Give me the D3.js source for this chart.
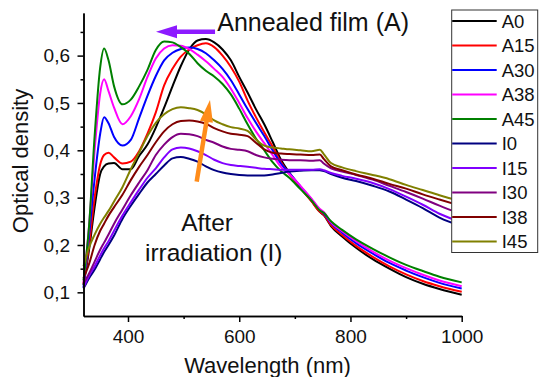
<!DOCTYPE html>
<html>
<head>
<meta charset="utf-8">
<script src="https://cdn.jsdelivr.net/npm/d3@7/dist/d3.min.js"></script>
<style>
  body { margin: 0; background: #fff; }
  svg { display: block; font-family: "Liberation Sans", Arial, sans-serif; }
</style>
</head>
<body>
<svg id="chart" width="539" height="377"></svg>
<script>
// wavelength grid (nm) shared by all spectra
const wavelength = [320, 330, 340, 350, 357, 365, 375, 390, 405, 420, 435, 450, 465, 480, 495, 510, 525, 540, 555, 570,
                    585, 600, 615, 630, 645, 660, 675, 690, 710, 730, 745, 752, 765, 785, 810, 840, 870, 900, 930, 960, 1000];

// annealed films
const A0  = [0.115, 0.19, 0.28, 0.35, 0.366, 0.372, 0.373, 0.36, 0.36, 0.388, 0.412, 0.448, 0.49, 0.535, 0.578, 0.613, 0.632, 0.635, 0.628, 0.613,
             0.59, 0.555, 0.522, 0.487, 0.455, 0.418, 0.38, 0.353, 0.322, 0.293, 0.27, 0.263, 0.24, 0.218, 0.194, 0.17, 0.15, 0.132, 0.118, 0.107, 0.095];
const A15 = [0.118, 0.2, 0.3, 0.37, 0.39, 0.395, 0.385, 0.372, 0.376, 0.398, 0.435, 0.48, 0.537, 0.572, 0.598, 0.613, 0.622, 0.626, 0.618, 0.6,
             0.576, 0.545, 0.505, 0.47, 0.438, 0.408, 0.375, 0.35, 0.32, 0.292, 0.27, 0.264, 0.242, 0.221, 0.198, 0.175, 0.155, 0.138, 0.124, 0.113, 0.101];
const A30 = [0.11, 0.22, 0.34, 0.435, 0.47, 0.457, 0.428, 0.41, 0.422, 0.468, 0.515, 0.557, 0.59, 0.606, 0.614, 0.617, 0.614, 0.605, 0.59, 0.572,
             0.548, 0.518, 0.487, 0.458, 0.43, 0.4, 0.372, 0.352, 0.324, 0.296, 0.274, 0.267, 0.246, 0.226, 0.204, 0.182, 0.162, 0.146, 0.132, 0.12, 0.108];
const A38 = [0.12, 0.24, 0.4, 0.52, 0.55, 0.525, 0.49, 0.455, 0.472, 0.508, 0.555, 0.594, 0.615, 0.622, 0.621, 0.614, 0.602, 0.588, 0.572, 0.555,
             0.53, 0.5, 0.468, 0.44, 0.415, 0.39, 0.365, 0.35, 0.325, 0.298, 0.276, 0.27, 0.248, 0.229, 0.208, 0.186, 0.167, 0.151, 0.137, 0.125, 0.113];
const A45 = [0.125, 0.24, 0.43, 0.575, 0.615, 0.59, 0.535, 0.497, 0.507, 0.535, 0.57, 0.612, 0.63, 0.628, 0.618, 0.604, 0.584, 0.568, 0.556, 0.54,
             0.518, 0.488, 0.455, 0.425, 0.4, 0.375, 0.356, 0.342, 0.318, 0.294, 0.273, 0.268, 0.25, 0.232, 0.212, 0.192, 0.174, 0.158, 0.145, 0.133, 0.121];
// after irradiation
const I0  = [0.108, 0.13, 0.148, 0.17, 0.185, 0.2, 0.22, 0.255, 0.283, 0.308, 0.332, 0.35, 0.368, 0.383, 0.386, 0.382, 0.376, 0.366, 0.358, 0.353,
             0.35, 0.348, 0.347, 0.347, 0.347, 0.349, 0.352, 0.355, 0.357, 0.358, 0.358, 0.356, 0.35, 0.342, 0.335, 0.325, 0.313, 0.296, 0.278, 0.258, 0.24];
const I15 = [0.11, 0.135, 0.155, 0.178, 0.193, 0.208, 0.23, 0.262, 0.29, 0.317, 0.342, 0.362, 0.385, 0.402, 0.406, 0.404, 0.398, 0.39, 0.38, 0.373,
             0.369, 0.367, 0.365, 0.363, 0.361, 0.36, 0.359, 0.359, 0.359, 0.359, 0.36, 0.358, 0.352, 0.346, 0.34, 0.331, 0.318, 0.302, 0.285, 0.266, 0.248];
const I30 = [0.118, 0.14, 0.165, 0.19, 0.205, 0.222, 0.245, 0.275, 0.305, 0.332, 0.358, 0.39, 0.412, 0.428, 0.435, 0.434, 0.43, 0.422, 0.416, 0.408,
             0.403, 0.401, 0.398, 0.39, 0.385, 0.382, 0.38, 0.379, 0.379, 0.378, 0.379, 0.372, 0.362, 0.355, 0.348, 0.338, 0.325, 0.312, 0.298, 0.283, 0.265];
const I38 = [0.13, 0.16, 0.2, 0.23, 0.245, 0.262, 0.28, 0.306, 0.337, 0.365, 0.39, 0.417, 0.44, 0.455, 0.462, 0.463, 0.461, 0.456, 0.447, 0.44,
             0.435, 0.433, 0.43, 0.416, 0.402, 0.395, 0.393, 0.392, 0.391, 0.39, 0.391, 0.382, 0.366, 0.358, 0.349, 0.34, 0.329, 0.319, 0.307, 0.296, 0.282];
const I45 = [0.155, 0.195, 0.222, 0.245, 0.258, 0.272, 0.292, 0.322, 0.36, 0.395, 0.43, 0.458, 0.476, 0.487, 0.491, 0.489, 0.485, 0.476, 0.463, 0.455,
             0.449, 0.446, 0.441, 0.423, 0.41, 0.406, 0.404, 0.402, 0.4, 0.398, 0.401, 0.392, 0.373, 0.364, 0.356, 0.348, 0.339, 0.327, 0.316, 0.305, 0.292];

const seriesNames  = ["A0", "A15", "A30", "A38", "A45", "I0", "I15", "I30", "I38", "I45"];
const seriesValues = [A0, A15, A30, A38, A45, I0, I15, I30, I38, I45];
const seriesColors = ["#000000", "#ff0000", "#0000ff", "#ff00ff", "#008000", "#000080", "#8000ff", "#800080", "#800000", "#808000"];

const yTicks = [0.1, 0.2, 0.3, 0.4, 0.5, 0.6];
const yMinorTicks = [0.15, 0.25, 0.35, 0.45, 0.55, 0.65];
const xTicks = [400, 600, 800, 1000];
const xMinorTicks = [500, 700, 900];

const svg = d3.select("#chart");
const x = d3.scaleLinear().domain([320, 1000]).range([83.5, 461.7]);
const y = d3.scaleLinear().domain([0.05, 0.69]).range([316, 13]);

// spectra
const line = d3.line()
    .x((d, i) => x(wavelength[i]))
    .y(d => y(d))
    .curve(d3.curveMonotoneX);

svg.append("g")
    .selectAll("path")
    .data(seriesValues)
    .enter()
    .append("path")
    .attr("d", d => line(d))
    .attr("fill", "none")
    .attr("stroke", (d, i) => seriesColors[i])
    .attr("stroke-width", 2)
    .attr("stroke-linejoin", "round");

// axes
const comma = d => d.toFixed(1).replace(".", ",");
const yAxis = svg.append("g")
    .attr("transform", `translate(${x.range()[0]},0)`)
    .call(d3.axisLeft(y).tickValues(yTicks).tickSize(6).tickSizeOuter(0).tickPadding(7.5).tickFormat(comma));
svg.append("g")
    .attr("transform", `translate(${x.range()[0]},0)`)
    .call(d3.axisLeft(y).tickValues(yMinorTicks).tickSize(3).tickSizeOuter(0).tickFormat(""));
const xAxis = svg.append("g")
    .attr("transform", `translate(0,${y.range()[0]})`)
    .call(d3.axisBottom(x).tickValues(xTicks).tickSize(6).tickSizeOuter(0).tickPadding(7.5).tickFormat(d3.format("d")));
svg.append("g")
    .attr("transform", `translate(0,${y.range()[0]})`)
    .call(d3.axisBottom(x).tickValues(xMinorTicks).tickSize(3).tickSizeOuter(0).tickFormat(""));

svg.selectAll(".domain, .tick line").attr("stroke", "#000").attr("stroke-width", 1.5);
svg.selectAll(".tick text").attr("font-size", 19).attr("fill", "#111").attr("font-family", "Liberation Sans, Arial, sans-serif");

svg.append("text")
    .attr("transform", "translate(28,161) rotate(-90)")
    .attr("text-anchor", "middle")
    .attr("font-size", 22)
    .attr("fill", "#111")
    .text("Optical density");
svg.append("text")
    .attr("x", 267.5)
    .attr("y", 373)
    .attr("text-anchor", "middle")
    .attr("font-size", 22)
    .attr("fill", "#111")
    .text("Wavelength (nm)");

// annotations
function arrow(from, to, color, width, headLen, headHalf) {
    const x0 = x(from[0]), y0 = y(from[1]), x1 = x(to[0]), y1 = y(to[1]);
    const len = Math.hypot(x1 - x0, y1 - y0);
    const ux = (x1 - x0) / len, uy = (y1 - y0) / len;
    const bx = x1 - ux * headLen, by = y1 - uy * headLen;
    svg.append("line")
        .attr("x1", x0).attr("y1", y0).attr("x2", bx + ux).attr("y2", by + uy)
        .attr("stroke", color).attr("stroke-width", width);
    svg.append("path")
        .attr("d", `M${x1},${y1}L${bx - uy * headHalf},${by + ux * headHalf}L${bx + uy * headHalf},${by - ux * headHalf}Z`)
        .attr("fill", color);
}
arrow([556.5, 0.6505], [450.3, 0.6505], "#8c1aff", 4.5, 21, 6.5);
arrow([523.5, 0.334], [547.4, 0.506], "#ff8c1a", 4.5, 22, 6.5);

svg.append("text").attr("x", x(560.4)).attr("y", y(0.651)).attr("font-size", 25).attr("fill", "#111").text("Annealed film (A)");
svg.append("text").attr("x", x(495.7)).attr("y", y(0.229)).attr("font-size", 24.5).attr("fill", "#111").text("After");
svg.append("text").attr("x", x(430.5)).attr("y", y(0.166)).attr("font-size", 24.5).attr("fill", "#111").text("irradiation (I)");

// legend
const legend = svg.append("g").attr("transform", "translate(451.7,10)");
legend.append("rect")
    .attr("width", 86).attr("height", 242.5)
    .attr("fill", "#fff").attr("stroke", "#333").attr("stroke-width", 1);
const item = legend.selectAll("g.item")
    .data(seriesNames)
    .enter()
    .append("g")
    .attr("class", "item")
    .attr("transform", (d, i) => `translate(0,${11 + i * 24.5})`);
item.append("line")
    .attr("x1", 0.5).attr("x2", 45)
    .attr("stroke", (d, i) => seriesColors[i])
    .attr("stroke-width", 2);
item.append("text")
    .attr("x", 50)
    .attr("dy", "0.36em")
    .attr("font-size", 18.5)
    .attr("fill", "#111")
    .text(d => d);
</script>
</body>
</html>
